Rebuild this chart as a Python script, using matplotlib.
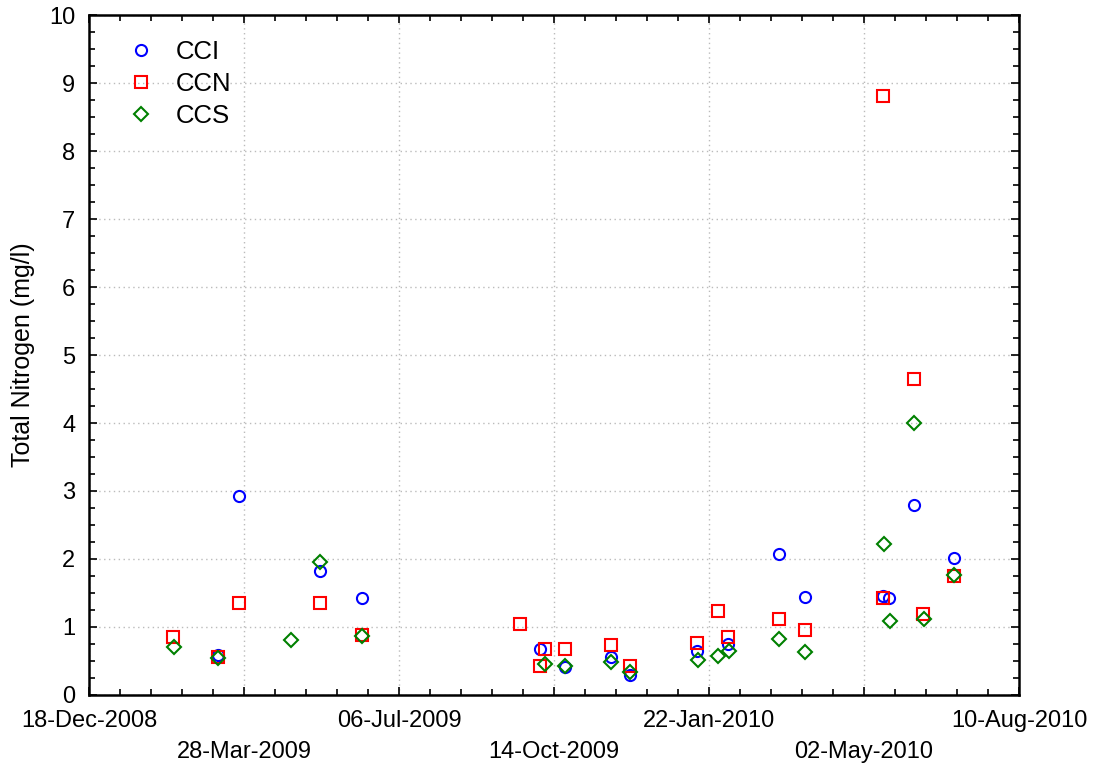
import matplotlib
matplotlib.use('Agg')
import matplotlib.pyplot as plt
import numpy as np
from datetime import datetime, timedelta

plt.rcParams['font.family'] = ['Liberation Sans', 'DejaVu Sans']

# Sampling dates and total nitrogen (mg/l) for each site
cci_dates = ['2009-03-11', '2009-03-25', '2009-05-16', '2009-06-12', '2009-10-05',
             '2009-10-21', '2009-11-20', '2009-12-02', '2010-01-14', '2010-02-03',
             '2010-03-08', '2010-03-25', '2010-05-14', '2010-05-18', '2010-06-03',
             '2010-06-29']
cci_tn = [0.59, 2.92, 1.82, 1.42, 0.68, 0.41, 0.56, 0.29, 0.65, 0.75,
          2.08, 1.44, 1.45, 1.42, 2.80, 2.01]

ccn_dates = ['2009-02-10', '2009-03-11', '2009-03-25', '2009-05-16', '2009-06-12',
             '2009-09-22', '2009-10-05', '2009-10-08', '2009-10-21', '2009-11-20',
             '2009-12-02', '2010-01-14', '2010-01-28', '2010-02-03', '2010-03-08',
             '2010-03-25', '2010-05-14', '2010-05-14', '2010-06-03', '2010-06-09',
             '2010-06-29']
ccn_tn = [0.86, 0.56, 1.36, 1.36, 0.88, 1.04, 0.42, 0.68, 0.68, 0.74,
          0.43, 0.77, 1.24, 0.86, 1.12, 0.95, 8.81, 1.42, 4.64, 1.19,
          1.75]

ccs_dates = ['2009-02-11', '2009-03-11', '2009-04-27', '2009-05-16', '2009-06-12',
             '2009-10-08', '2009-10-21', '2009-11-20', '2009-12-02', '2010-01-15',
             '2010-01-28', '2010-02-04', '2010-03-08', '2010-03-25', '2010-05-15',
             '2010-05-19', '2010-06-03', '2010-06-10', '2010-06-29']
ccs_tn = [0.70, 0.55, 0.81, 1.96, 0.87, 0.46, 0.43, 0.49, 0.34, 0.51,
          0.57, 0.65, 0.83, 0.63, 2.22, 1.09, 4.00, 1.12, 1.76]

start = datetime(2008, 12, 18)
ticks = [start + timedelta(days=100 * i) for i in range(7)]

def to_dt(lst):
    return [datetime.strptime(d, '%Y-%m-%d') for d in lst]

fig = plt.figure(figsize=(10.99, 7.71), dpi=100)
ax = fig.add_axes([0.081, 0.0986, 0.8462, 0.8819])

ax.plot(to_dt(cci_dates), cci_tn, 'o', mfc='none', mec='#0000ff', mew=1.5, ms=8, label='CCI')
ax.plot(to_dt(ccn_dates), ccn_tn, 's', mfc='none', mec='#ff0000', mew=1.5, ms=8, label='CCN')
ax.plot(to_dt(ccs_dates), ccs_tn, 'D', mfc='none', mec='#008000', mew=1.5, ms=7, label='CCS')

ax.set_xlim(ticks[0], ticks[-1])
ax.set_ylim(0, 10)
ax.set_xticks(ticks)
ax.set_xticks([start + timedelta(days=20 * i) for i in range(31)], minor=True)
# staggered date labels on two rows
labels = [t.strftime('%d-%b-%Y') if i % 2 == 0 else '\n' + t.strftime('%d-%b-%Y')
          for i, t in enumerate(ticks)]
ax.set_xticklabels(labels, fontsize=17, linespacing=1.5)
ax.set_yticks(np.arange(0, 11, 1))
ax.set_yticks(np.arange(0, 10.01, 0.25), minor=True)
ax.tick_params(axis='y', labelsize=17, pad=10)

ax.tick_params(which='both', direction='in', top=True, right=True, width=1.2)
ax.tick_params(which='major', length=6)
ax.tick_params(which='minor', length=4)
ax.tick_params(axis='x', pad=11)

ax.grid(True, which='major', linestyle=(0, (1, 2.5)), color='#bbbbbb', linewidth=1)
for s in ax.spines.values():
    s.set_linewidth(1.8)

ax.set_ylabel('Total Nitrogen (mg/l)', fontsize=18)
ax.yaxis.set_label_coords(-0.058, 0.5)

ax.legend(loc='upper left', bbox_to_anchor=(0.009, 0.997), frameon=False, fontsize=18.5,
          handletextpad=0.55, labelspacing=0.3, handlelength=1.6)

fig.savefig('out.png', dpi=100)
